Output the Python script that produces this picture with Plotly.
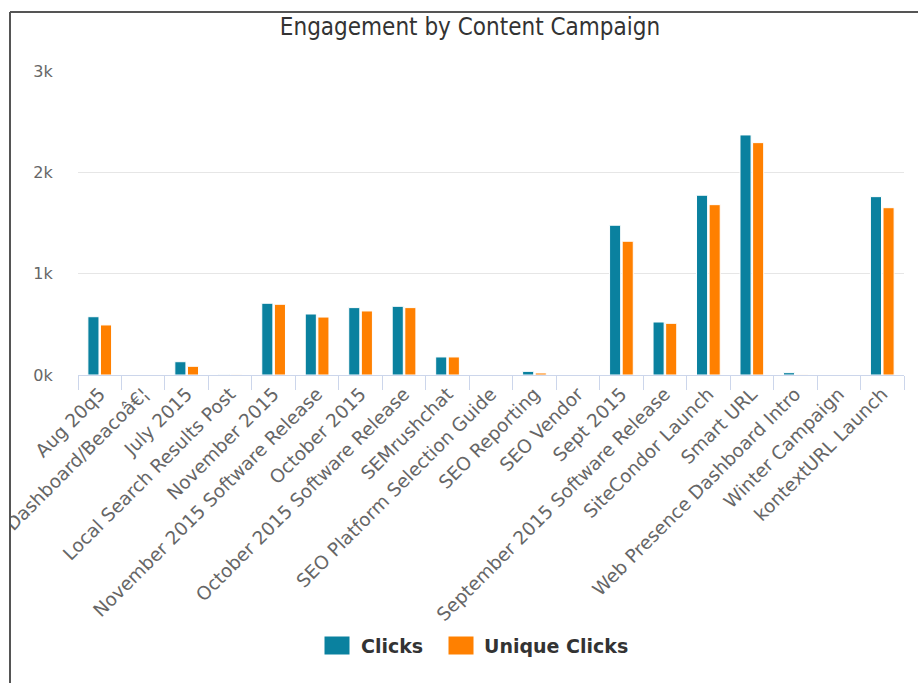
import plotly.graph_objects as go

categories = [
    "Aug 20q5", "Dashboard/Beacoâ€¦", "July 2015", "Local Search Results Post",
    "November 2015", "November 2015 Software Release", "October 2015",
    "October 2015 Software Release", "SEMrushchat", "SEO Platform Selection Guide",
    "SEO Reporting", "SEO Vendor", "Sept 2015", "September 2015 Software Release",
    "SiteCondor Launch", "Smart URL", "Web Presence Dashboard Intro",
    "Winter Campaign", "kontextURL Launch",
]
clicks = [575, 0, 131, 3, 708, 602, 665, 678, 178, 0, 36, 0, 1478, 523, 1774, 2369, 23, 0, 1760]
unique_clicks = [494, 0, 86, 2, 698, 572, 632, 665, 178, 0, 20, 0, 1320, 510, 1681, 2293, 2, 0, 1651]

series_names = ["Clicks", "Unique Clicks"]
series_colors = ["#0a819f", "#ff8000"]

y_tickvals = [0, 1000, 2000, 3000]
y_ticktext = ["0k", "1k", "2k", "3k"]

W, H = 918, 683
L, R, T, B = 78, 14, 71, 308
pw, ph = W - L - R, H - T - B

def px_x(x):
    return (x - L) / pw

def px_y(y):
    return (H - B - y) / ph

fig = go.Figure()
for name, vals, col in zip(series_names, [clicks, unique_clicks], series_colors):
    fig.add_trace(go.Bar(
        x=categories, y=vals, name=name, showlegend=False,
        marker=dict(color=col, line=dict(color="#ffffff", width=1)),
    ))

fig.update_layout(
    width=W, height=H,
    margin=dict(l=L, r=R, t=T, b=B, pad=0, autoexpand=False),
    paper_bgcolor="white", plot_bgcolor="white",
    barmode="group", bargap=0.42, bargroupgap=0.12,
    font=dict(family="DejaVu Sans, sans-serif", color="#666666", size=15),
    title=dict(
        text="Engagement by Content Campaign",
        x=px_x(470), xref="paper", xanchor="center",
        y=1 - 27 / H, yref="container", yanchor="middle",
        font=dict(family="DejaVu Sans Condensed, DejaVu Sans, sans-serif", size=24, color="#333333"),
    ),
    showlegend=False,
    xaxis=dict(
        type="category", tickangle=-45, automargin=False,
        ticks="outside", tickson="boundaries", ticklen=14, tickcolor="#ccd6eb", tickwidth=1,
        showline=True, linecolor="#ccd6eb", linewidth=1,
        showgrid=False, zeroline=False,
        tickfont=dict(family="DejaVu Sans, sans-serif", size=18.5, color="#666666"),
    ),
    yaxis=dict(
        range=[0, 3000], tickvals=y_tickvals, ticktext=y_ticktext, automargin=False,
        showgrid=True, gridcolor="#e6e6e6", gridwidth=1,
        zeroline=False, showline=False,
        ticks="outside", ticklen=21, tickcolor="rgba(0,0,0,0)",
        tickfont=dict(family="DejaVu Sans, sans-serif", size=16, color="#666666"),
    ),
)

# custom legend (large swatches as in the reference)
legend_swatch_x = [324, 448]
legend_text_x = [359, 482]
for name, col, sx, tx in zip(series_names, series_colors, legend_swatch_x, legend_text_x):
    fig.add_shape(type="rect", xref="paper", yref="paper",
                  x0=px_x(sx), x1=px_x(sx + 26), y0=px_y(655), y1=px_y(636),
                  fillcolor=col, line=dict(color="#ffffff", width=1), layer="above")
    fig.add_annotation(text=name, xref="paper", yref="paper",
                       x=px_x(tx), y=px_y(646), xanchor="left", yanchor="middle",
                       showarrow=False,
                       font=dict(family="DejaVu Sans, sans-serif", size=19,
                                 color="#333333", weight="bold"))

# white mask left of the frame, then the frame lines
fig.add_shape(type="rect", xref="paper", yref="paper",
              x0=px_x(-5), x1=px_x(9), y0=px_y(H + 5), y1=px_y(-5),
              fillcolor="white", line=dict(width=0), layer="above")
fig.add_shape(type="line", xref="paper", yref="paper",
              x0=px_x(10), x1=px_x(10), y0=px_y(12), y1=px_y(H + 5),
              line=dict(color="#555555", width=2), layer="above")
fig.add_shape(type="line", xref="paper", yref="paper",
              x0=px_x(10), x1=px_x(W + 5), y0=px_y(12), y1=px_y(12),
              line=dict(color="#555555", width=2), layer="above")

fig.write_html("out.html")
